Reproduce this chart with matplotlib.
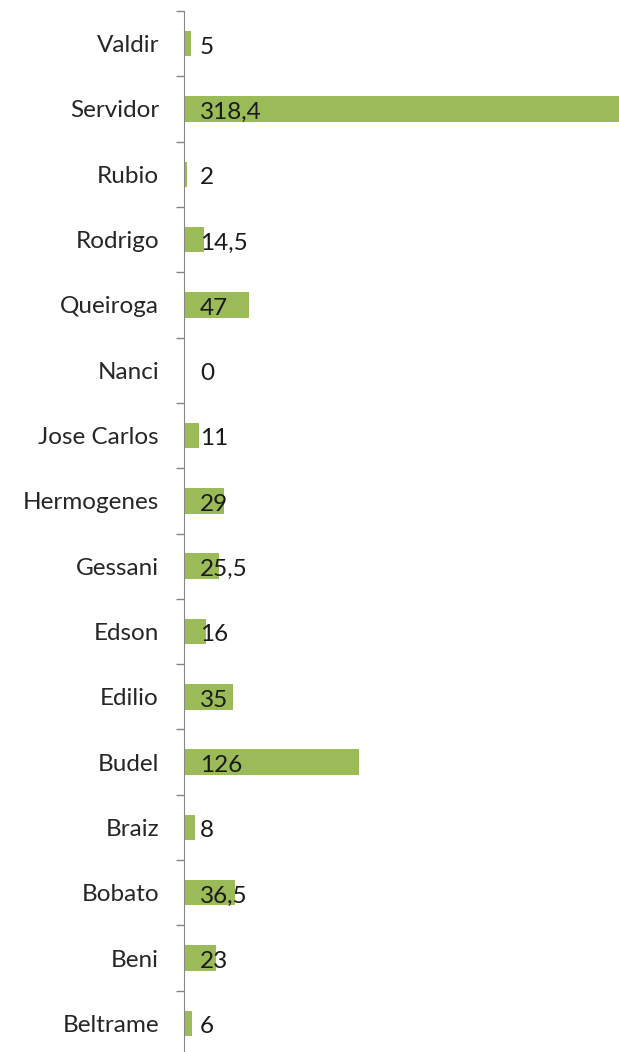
import matplotlib.pyplot as plt
import numpy as np

names = ["Valdir", "Servidor", "Rubio", "Rodrigo", "Queiroga", "Nanci",
         "Jose Carlos", "Hermogenes", "Gessani", "Edson", "Edilio", "Budel",
         "Braiz", "Bobato", "Beni", "Beltrame"]
values = [5, 318.4, 2, 14.5, 47, 0, 11, 29, 25.5, 16, 35, 126, 8, 36.5, 23, 6]
labels = ["5", "318,4", "2", "14,5", "47", "0", "11", "29", "25,5", "16",
          "35", "126", "8", "36,5", "23", "6"]

plt.rcParams['font.family'] = ['Lato', 'DejaVu Sans']

fig = plt.figure(figsize=(6.19, 10.52), dpi=100)
ax = fig.add_axes([184 / 619, -4 / 1052, 1 - 184 / 619, 1045 / 1052])

y = np.arange(len(names))
ax.barh(y, values, height=0.39, color="#9BBB59")
ax.set_ylim(len(names) - 0.5, -0.5)
ax.set_xlim(0, 313)

# value labels sit just inside the bar base
for yi, lab in zip(y, labels):
    ax.annotate(lab, (0, yi), xytext=(11.5, -1), textcoords="offset points",
                va="center_baseline", ha="left", fontsize=17.5, color="#1a1a1a")

ax.set_yticks(y)
ax.set_yticklabels(names, fontsize=17.5, color="#262626", va="center_baseline")
ax.tick_params(axis="y", which="major", length=0, pad=18)
ax.set_yticks(np.arange(len(names) + 1) - 0.5, minor=True)
ax.tick_params(axis="y", which="minor", length=6, color="#868686", width=1)
ax.set_xticks([])
for s in ["top", "right", "bottom"]:
    ax.spines[s].set_visible(False)
ax.spines["left"].set_color("#868686")

fig.savefig("out.png", dpi=100)
